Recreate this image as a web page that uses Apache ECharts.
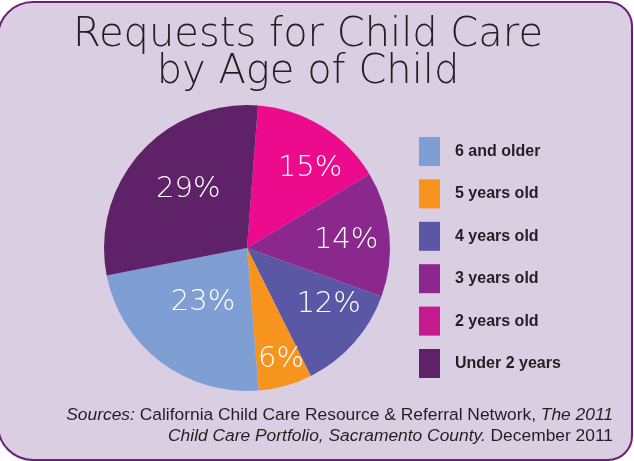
<!DOCTYPE html>
<html><head><meta charset="utf-8">
<script src="https://cdn.jsdelivr.net/npm/echarts@6/dist/echarts.min.js"></script>
<style>html,body{margin:0;padding:0;background:#fff}#c{width:634px;height:461px}</style>
</head><body><div id="c"></div>
<script>
// Data (clockwise from top)
const categories = ['2 years old', '3 years old', '4 years old', '5 years old', '6 and older', 'Under 2 years'];
const values = [15, 14, 12, 6, 23, 29];
const legendOrder = ['6 and older', '5 years old', '4 years old', '3 years old', '2 years old', 'Under 2 years'];

// Styles
const sliceColors = ['#ec0b8c', '#8b288e', '#5a57a5', '#f7941d', '#7f9ed3', '#5f2167'];
const legendColors = {'6 and older':'#7f9ed3','5 years old':'#f7941d','4 years old':'#5a57a5','3 years old':'#8b288e','2 years old':'#c41a8e','Under 2 years':'#5f2167'};
const labelNudge = [[24,-16],[25,0],[26,7],[14,40],[1,-5],[-3,-9]];

const chart = echarts.init(document.getElementById('c'), null, {renderer:'canvas'});
chart.setOption({
  backgroundColor: 'transparent',
  animation: false,
  graphic: [{
    type: 'rect', z: -10, silent: true,
    shape: {x: -2, y: 2, width: 634, height: 458, r: [35, 24, 24, 35]},
    style: {fill: '#dacee3', stroke: '#6d1f7a', lineWidth: 2}
  }, {
    type: 'text', silent: true, x: 613, y: 405,
    style: {
      text: '{i|Sources:} California Child Care Resource & Referral Network, {i|The 2011}\n{i|Child Care Portfolio, Sacramento County.} December 2011',
      align: 'right', verticalAlign: 'top',
      font: '17.4px "Liberation Sans"', fill: '#231f20', lineHeight: 21,
      rich: {i: {fontFamily: 'Liberation Sans', fontStyle: 'italic', fontWeight: 'normal', fontSize: 17.4, lineHeight: 21, fill: '#231f20'}}
    }
  }],
  title: {
    text: 'Requests for Child Care\nby Age of Child',
    left: 303, top: 12, textAlign: 'center',
    textStyle: {fontFamily: 'DejaVu Sans', fontWeight: 300, fontSize: 40, lineHeight: 37, color: '#231f20'}
  },
  legend: {
    orient: 'vertical', left: 414, top: 132,
    itemWidth: 21, itemHeight: 29, itemGap: 13.4,
    icon: 'rect',
    data: legendOrder.map(n => ({name: n, itemStyle: {color: legendColors[n]}})),
    textStyle: {fontFamily: 'Liberation Sans', fontWeight: 'bold', fontSize: 16, color: '#231f20', padding: [0, 0, 0, 10]}
  },
  series: [{
    type: 'pie',
    center: [247, 248], radius: 143,
    startAngle: 85.6, clockwise: true,
    avoidLabelOverlap: false,
    data: categories.map((c, i) => ({name: c, value: values[i], itemStyle: {color: sliceColors[i]}})),
    itemStyle: {borderWidth: 0},
    label: {
      show: true, position: 'inside', formatter: '{c}%',
      color: '#ffffff', fontFamily: 'DejaVu Sans', fontWeight: 300, fontSize: 29
    },
    labelLine: {show: false},
    labelLayout: function (p) { const n = labelNudge[p.dataIndex]; return {dx: n[0], dy: n[1]}; },
    emphasis: {disabled: true}
  }]
});
</script></body></html>
